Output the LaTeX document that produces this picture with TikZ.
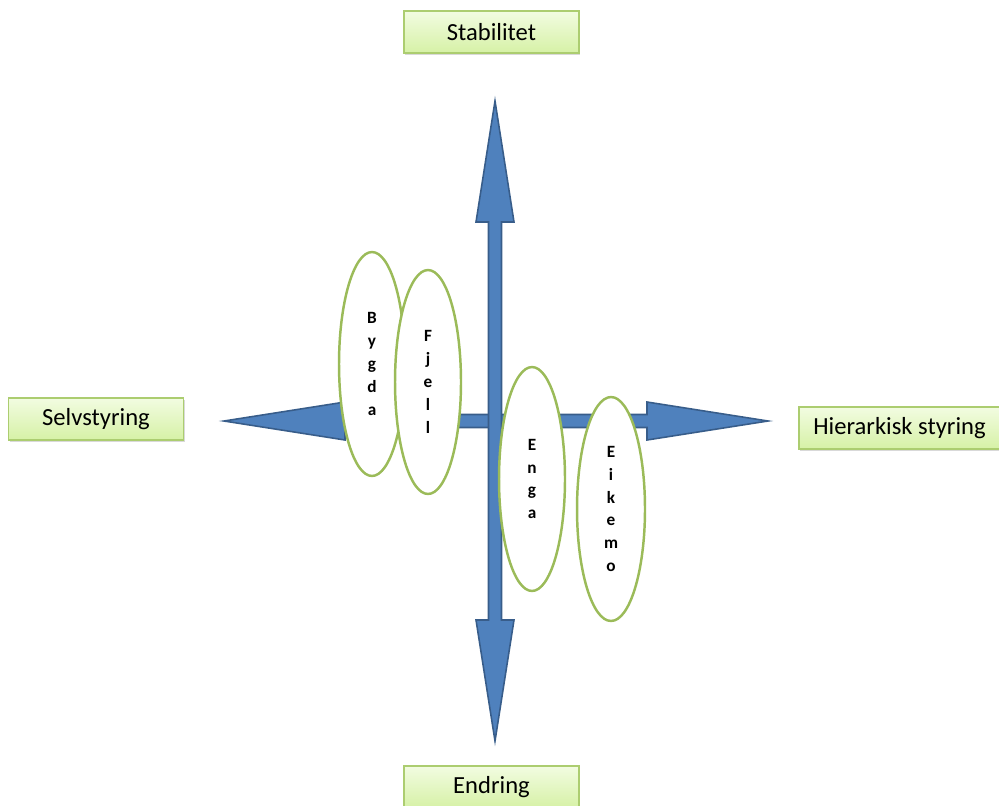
\documentclass[tikz,border=0pt]{standalone}
\usepackage{fontspec}
\setmainfont{Carlito}
\usepackage{tikz}
\usetikzlibrary{shapes.geometric}
\usetikzlibrary{shadows}

\definecolor{arrowblue}{RGB}{79,129,189}
\definecolor{arrowedge}{RGB}{56,93,138}
\definecolor{olive}{RGB}{155,187,89}
\definecolor{boxedge}{RGB}{172,205,112}
\definecolor{boxtop}{RGB}{242,252,225}
\definecolor{boxbottom}{RGB}{214,241,166}

\begin{document}
\begin{tikzpicture}[x=0.02cm, y=-0.02cm,
        axisbox/.style={draw=boxedge, line width=0.8pt, top color=boxtop, bottom color=boxbottom,
            minimum width=3.5cm, minimum height=0.84cm, inner sep=0pt,
            drop shadow={shadow xshift=0.8pt, shadow yshift=-1.3pt, opacity=0.3},
            font=\fontsize{14}{16}\selectfont},
        blockarrow/.style={fill=arrowblue, draw=arrowedge, line width=0.9pt, line join=miter},
        place/.style={ellipse, draw=olive, line width=1.4pt, fill=white,
            minimum width=1.32cm, minimum height=4.48cm, inner sep=0pt, align=center,
            font=\fontsize{9.8}{13}\selectfont\bfseries}]
        \useasboundingbox (0,0) rectangle (999,805);

        \filldraw[blockarrow] (224,421) -- (345,402) -- (345,414.5) -- (647,414.5) -- (647,402)
            -- (768,421) -- (647,440) -- (647,427.5) -- (345,427.5) -- (345,440) -- cycle;
        \filldraw[blockarrow] (495,101) -- (514,222) -- (501.5,222) -- (501.5,620) -- (514,620)
            -- (495,741) -- (476,620) -- (488.5,620) -- (488.5,222) -- (476,222) -- cycle;

        \node(stab) [axisbox] at (491.5,32) {Stabilitet};
        \node(endr) [axisbox] at (491.5,787) {Endring};
        \node(selv) [axisbox] at (96,419) {Selvstyring};
        \node(hier) [axisbox, minimum width=4.02cm] at (899.5,428) {Hierarkisk styring};

        \node(bygda) [place] at (372,364) {B\\y\\g\\d\\a};
        \node(fjell) [place] at (428,382) {F\\j\\e\\l\\l};
        \node(enga) [place] at (532,479) {E\\n\\g\\a};
        \node(eikemo) [place, minimum width=1.36cm] at (611,509) {E\\i\\k\\e\\m\\o};
    \end{tikzpicture}
\end{document}
